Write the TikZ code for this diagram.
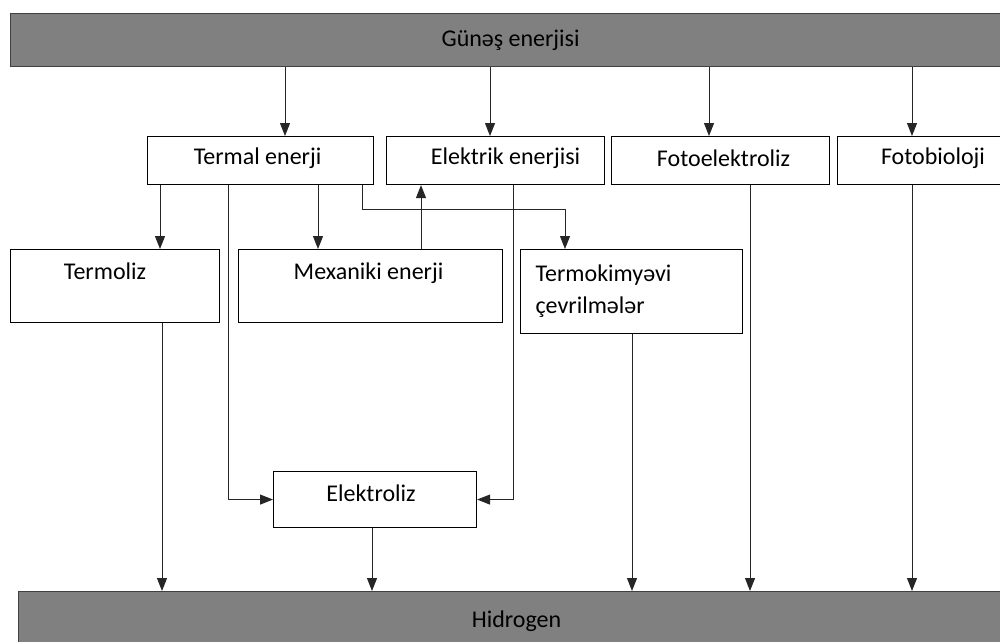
\documentclass[tikz,border=0pt]{standalone}
\usepackage{fontspec}
\setmainfont{Carlito}
\usetikzlibrary{arrows.meta}
\begin{document}
\begin{tikzpicture}[x=1pt,y=-1pt,
  every node/.style={font=\fontsize{24}{32}\selectfont},
  box/.style={draw=black, line width=1.1pt, fill=white, inner sep=0pt, anchor=north west},
  bar/.style={draw=black!75, line width=1.2pt, fill=black!50, inner sep=0pt, anchor=north west},
  arr/.style={draw=black!85, line width=1pt, -{Triangle[length=13pt,width=10pt]}},
  ln/.style={draw=black!85, line width=1pt}]
\useasboundingbox (0,0) rectangle (1000,641);
\clip (0,0) rectangle (1000,641);
% bars
\node[bar, minimum width=1000, minimum height=53, label={[name=topt]center:Günəş enerjisi}] (top) at (10,13) {};
\node[bar, minimum width=1000, minimum height=60, label={[name=hidt, xshift=-2pt]center:Hidrogen}] (hid) at (18,591) {};
% first row
\node[box, minimum width=226, minimum height=48, label={[name=termalt, xshift=-3pt, yshift=2pt]center:Termal enerji}] (termal) at (147,136) {};
\node[box, minimum width=218, minimum height=48, label={[name=elekt, xshift=10pt, yshift=2pt]center:Elektrik enerjisi}] (elek) at (386,136) {};
\node[box, minimum width=218, minimum height=48, label={[name=fotoelt, xshift=3pt, yshift=2pt]center:Fotoelektroliz}] (fotoel) at (611,136) {};
\node[box, minimum width=180, minimum height=48] (fotobio) at (837,136) {};
\node[name=fotobiot] at (933,158) {Fotobioloji};
% second row
\node[box, minimum width=209, minimum height=73, label={[name=termolizt, xshift=-10pt, yshift=15pt]center:Termoliz}] (termoliz) at (10,249) {};
\node[box, minimum width=264, minimum height=73, label={[name=mext, xshift=-2pt, yshift=13pt]center:Mexaniki enerji}] (mex) at (238,249) {};
\node[box, minimum width=222, minimum height=84, text width=192, inner xsep=15pt, align=left] (termo) at (520,249) {Termokimyəvi\\çevrilmələr};
% third row
\node[box, minimum width=203, minimum height=56, label={[name=elektrolizt, xshift=-4pt, yshift=6pt]center:Elektroliz}] (elektroliz) at (273,471) {};
% helper x positions
\foreach \n/\x in {a/285,b/490,c/709,d/912,e/160,f/228,g/318,h/362,i/565,j/421,k/513,l/162,m/372,n/632,o/750}
  \coordinate (v\n) at (\x,0);
% from the sun
\draw[arr] (top.south -| va) -- (termal.north -| va);
\draw[arr] (top.south -| vb) -- (elek.north -| vb);
\draw[arr] (top.south -| vc) -- (fotoel.north -| vc);
\draw[arr] (top.south -| vd) -- (fotobio.north -| vd);
% from thermal energy
\draw[arr] (termal.south -| ve) -- (termoliz.north -| ve);
\draw[arr] (termal.south -| vf) |- (elektroliz.west);
\draw[arr] (termal.south -| vg) -- (mex.north -| vg);
\draw[arr] (termal.south -| vh) -- ++(0,24) -| (termo.north -| vi);
% mechanical to electric
\draw[arr] (mex.north -| vj) -- (elek.south -| vj);
% electric to electrolysis
\draw[arr] (elek.south -| vk) |- (elektroliz.east);
% to hydrogen
\draw[arr] (termoliz.south -| vl) -- (hid.north -| vl);
\draw[arr] (elektroliz.south -| vm) -- (hid.north -| vm);
\draw[arr] (termo.south -| vn) -- (hid.north -| vn);
\draw[arr] (fotoel.south -| vo) -- (hid.north -| vo);
\draw[arr] (fotobio.south -| vd) -- (hid.north -| vd);
\end{tikzpicture}
\end{document}
